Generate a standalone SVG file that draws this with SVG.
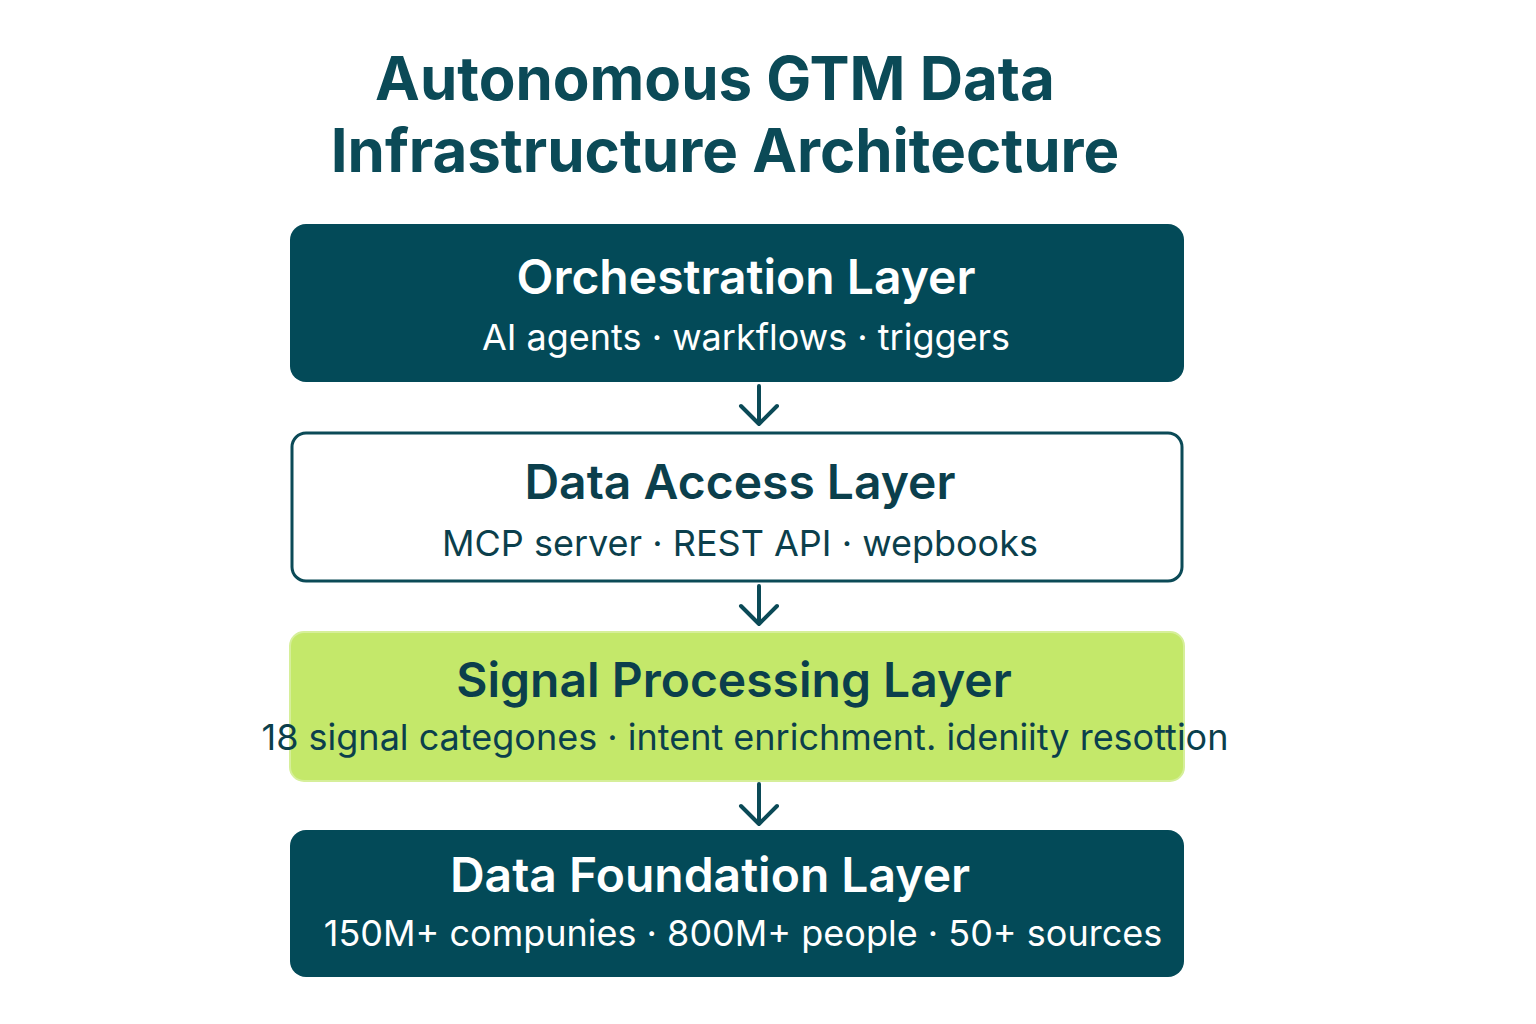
<svg xmlns="http://www.w3.org/2000/svg" width="1536" height="1024" viewBox="0 0 1536 1024">
<style>
.t{font-family:"Inter","Liberation Sans",sans-serif;fill:#0b4a57;font-weight:700;text-anchor:middle}
.h{font-family:"Inter","Liberation Sans",sans-serif;font-size:48px;font-weight:600;text-anchor:middle}
.s{font-family:"Inter","Liberation Sans",sans-serif;font-size:36px;text-anchor:middle}
.dark{fill:#034a58}
.w{fill:#ffffff}
.d{fill:#0b3f4c}
.c{stroke:#0b4a57;stroke-width:4;fill:none;stroke-linecap:round;stroke-linejoin:round}
</style>
<rect width="1536" height="1024" fill="#ffffff"/>
<text class="t" x="715" y="100" font-size="60">Autonomous GTM Data</text>
<text class="t" x="725" y="172" font-size="60">Infrastructure Architecture</text>
<g id="orchestration">
<rect x="290" y="224" width="894" height="158" rx="16" class="dark"/>
<text class="h w" x="746" y="294">Orchestration Layer</text>
<text class="s w" x="746" y="350">AI agents · warkflows · triggers</text>
</g>
<g id="access">
<rect x="292" y="433" width="890" height="148" rx="14" fill="#ffffff" stroke="#0b4a57" stroke-width="3"/>
<text class="h d" x="740" y="499">Data Access Layer</text>
<text class="s d" x="740" y="556">MCP server · REST API · wepbooks</text>
</g>
<g id="signal">
<rect x="290" y="632" width="894" height="149" rx="14" fill="#c4e86a" stroke="#d6ef9a" stroke-width="2"/>
<text class="h d" x="734" y="697">Signal Processing Layer</text>
<text class="s d" x="745" y="750" font-size="32">18 signal categones · intent enrichment.  ideniity resottion</text>
</g>
<g id="foundation">
<rect x="290" y="830" width="894" height="147" rx="16" class="dark"/>
<text class="h w" x="710" y="892">Data Foundation Layer</text>
<text class="s w" x="743" y="946">150M+ compunies · 800M+ people · 50+ sources</text>
</g>
<g id="connectors">
<path class="c" d="M759 386V424M741 406L759 424L777 406"/>
<path class="c" d="M759 586V624M741 606L759 624L777 606"/>
<path class="c" d="M759 784V824M741 806L759 824L777 806"/>
</g>
</svg>
